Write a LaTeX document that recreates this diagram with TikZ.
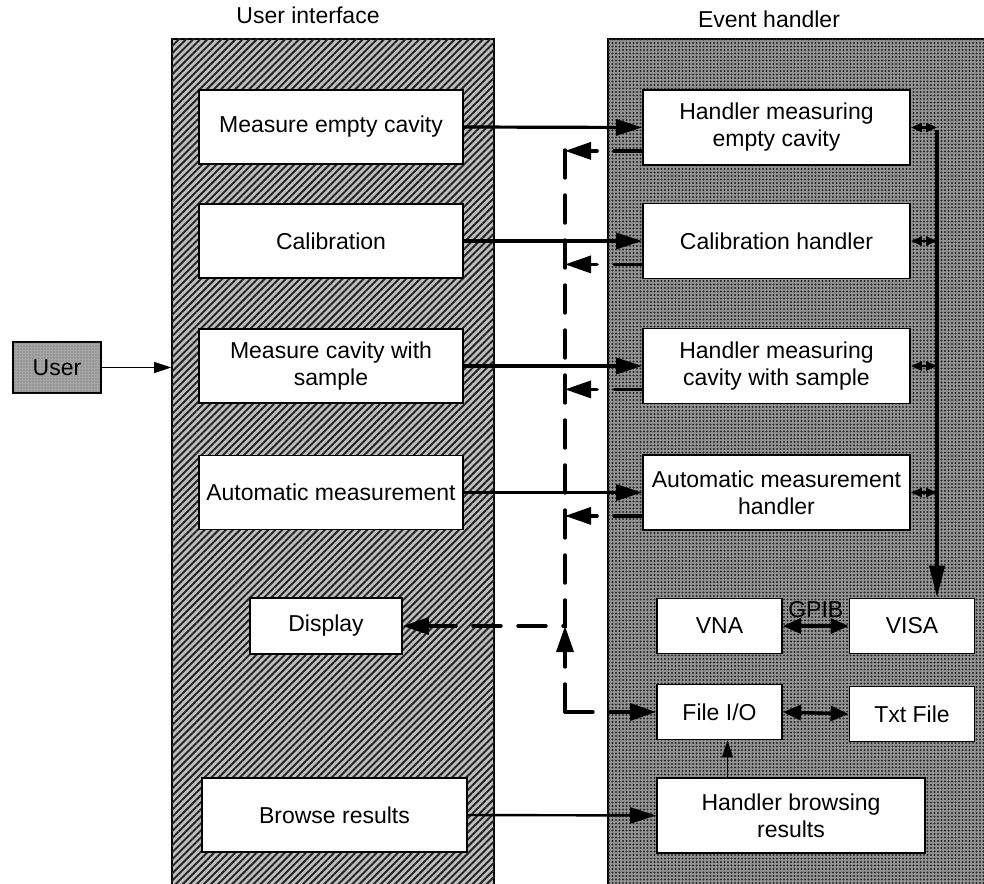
\documentclass[tikz,border=0pt]{standalone}
\usepackage{fontspec}
\setmainfont{Liberation Sans}
\usetikzlibrary{math}
\usetikzlibrary{arrows.meta}
\usetikzlibrary{patterns.meta}

\tikzset{
  txt/.style={font=\fontsize{23}{27}\selectfont},
  box/.style={txt, draw, line width=1.8pt, fill=white, align=center, inner sep=0pt},
  lbox/.style={box, minimum width=264pt, minimum height=74pt},
  rbox/.style={box, minimum width=267pt, minimum height=75pt},
  sbox/.style={box, minimum width=125pt, minimum height=55pt},
  uipanel/.style={draw, line width=1.8pt, fill=black!25, inner sep=0pt,
    postaction={pattern={Lines[angle=45,distance=5pt,line width=2pt]}, pattern color=black!85},
    minimum width=322pt, minimum height=862pt},
  ehpanel/.style={draw, line width=1.8pt, fill=black!42, inner sep=0pt,
    postaction={pattern={Dots[distance=3.5pt,radius=1.1pt]}, pattern color=black!85},
    minimum width=384pt, minimum height=862pt},
  userbox/.style={txt, draw, line width=1.8pt, fill=black!35, inner sep=0pt,
    postaction={pattern={Dots[distance=3pt,radius=0.7pt]}, pattern color=black!60},
    minimum width=88pt, minimum height=51pt},
  fwd/.style={line width=3.2pt, -{Triangle[length=26pt,width=16pt]}},
  dline/.style={line width=3.4pt, line cap=round, dash pattern=on 28pt off 17pt,
    -{Triangle[length=26pt,width=17pt]}},
  tick/.style={line width=2.2pt, {Triangle[length=11pt,width=9pt]}-{Triangle[length=11pt,width=9pt]}},
  rbus/.style={line width=4pt, -{Triangle[length=32pt,width=15pt]}},
  dbl/.style={line width=3.4pt, {Triangle[length=18pt,width=15pt]}-{Triangle[length=18pt,width=15pt]}},
  thinarr/.style={line width=1.4pt, -{Triangle[length=17pt,width=11pt]}},
}

\begin{document}
\begin{tikzpicture}[x=1pt, y=-1pt]
\useasboundingbox (0,0) rectangle (984,883);

% Panely
\tikzmath{ \bx = 565; \rx = 937; }

\node[uipanel] (ui) at (333,470) {};
\node[ehpanel] (eh) at (800,470) {};

\node[txt, anchor=base] (uititle) at (308,24) {User interface};
\node[txt, anchor=base] (ehtitle) at (769,28) {Event handler};

% User interface
\node[lbox] (emc) at (331,127) {Measure empty cavity};
\node[lbox] (cal) at (331,241) {Calibration};
\node[lbox] (mcs) at (331,366) {Measure cavity with\\sample};
\node[lbox] (auto) at (331,492.5) {Automatic measurement};
\node[box, minimum width=152pt, minimum height=56pt] (display) at (326,626) {Display};
\node[lbox, minimum width=265pt] (browse) at (334.5,815) {Browse results};

\node[userbox] (user) at (57,367.5) {User};

% Event handler
\node[rbox] (hemc) at (776.5,127.5) {Handler measuring\\empty cavity};
\node[rbox] (calh) at (776.5,241) {Calibration handler};
\node[rbox] (hmcs) at (776.5,366) {Handler measuring\\cavity with sample};
\node[rbox] (hauto) at (776.5,492.5) {Automatic measurement\\handler};
\node[sbox] (vna) at (719.5,626) {VNA};
\node[sbox] (visa) at (912,626) {VISA};
\node[sbox] (fio) at (719.5,712) {File I/O};
\node[sbox] (tfile) at (912,714) {Txt File};
\node[rbox, minimum width=268pt] (hbr) at (791,815.5) {Handler browsing\\results};

% Sipky
\draw[thinarr] (user.east) -- (user.east -| ui.west);

\draw[fwd] (emc.east) -- (hemc.west);
\draw[fwd] (cal.east) -- (calh.west);
\draw[fwd] (mcs.east) -- (hmcs.west);
\draw[fwd] (auto.east) -- (hauto.west);
\draw[fwd, line width=2.4pt] (browse.east) -- (hbr.west);

% Navrat
\coordinate (btop) at (\bx,150);
\coordinate (bcorner) at (btop |- fio.west);
\foreach \h in {hemc, calh, hmcs, hauto}
  \draw[dline] ([yshift=15pt]\h.south west) -- ([yshift=15pt]\h.south west -| btop);
\draw[dline] (btop) -- (btop |- display.east) -- (display.east);
\draw[dline] (bcorner) -- (btop |- display.east);
\draw[dline] (bcorner) -- (fio.west);

% VISA
\coordinate (rtop) at (\rx,130);
\draw[rbus] (rtop) -- (rtop |- visa.north);
\foreach \h in {hemc, calh, hmcs, hauto}
  \draw[tick] (\h.east) -- (\h.east -| rtop);

\draw[dbl] (vna.east) -- (visa.west) node[txt, midway, above=7pt, inner sep=0pt] (gpib) {GPIB};
\draw[dbl] (fio.east) -- (tfile.west);
\draw[thinarr] ([xshift=8pt]hbr.north -| fio.south) -- ([xshift=8pt]fio.south);

\end{tikzpicture}
\end{document}
